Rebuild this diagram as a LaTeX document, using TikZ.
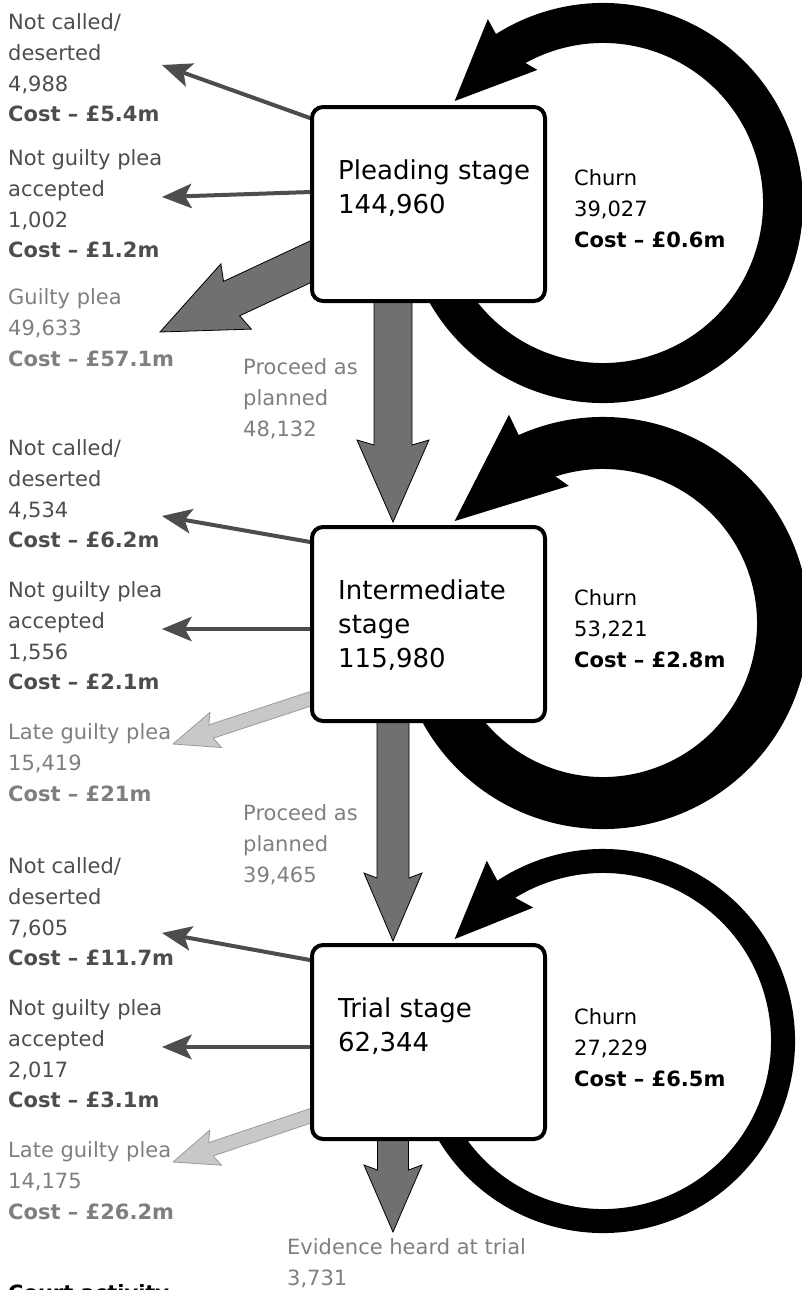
\documentclass[tikz,border=0pt]{standalone}
\usepackage{fontspec}
\setmainfont{DejaVu Sans}
\usetikzlibrary{calc,arrows.meta,bending,backgrounds}
\definecolor{flowgrey}{HTML}{707070}
\definecolor{exitgrey}{HTML}{4D4D4D}
\definecolor{lightflow}{HTML}{C8C8C8}
\definecolor{lightedge}{HTML}{9A9A9A}
\definecolor{fadedtext}{HTML}{7F7F7F}

% block arrow: style, from, to, half shaft, half head, head length
\newcommand{\flowarrow}[6]{%
  \coordinate (fa-b) at ($(#3)!#6!(#2)$);
  \coordinate (fa-j) at ($(#3)!#6-5pt!(#2)$);
  \filldraw[#1] ($(#2)!#4!90:(#3)$) -- ($(fa-j)!#4!90:(#3)$) -- ($(fa-b)!#5!90:(#3)$) -- (#3)
    -- ($(fa-b)!#5!-90:(#3)$) -- ($(fa-j)!#4!-90:(#3)$) -- ($(#2)!#4!-90:(#3)$) -- cycle;
}

\begin{document}
\begin{tikzpicture}[x=1pt, y=1pt,
  stage/.style={draw=black, line width=4pt, fill=white, rounded corners=11pt,
    minimum width=233pt, minimum height=194pt, inner sep=0pt},
  stagetext/.style={anchor=north west, inner sep=0pt, align=left, font=\fontsize{26}{34}\selectfont},
  info/.style={anchor=north west, inner sep=0pt, align=left, font=\fontsize{21}{30.7}\selectfont},
  exit/.style={draw=exitgrey, line width=4pt, -{Stealth[length=30pt, width=25pt, inset=7pt, line width=0pt]}},
  flow/.style={fill=flowgrey, draw=black, line width=0.8pt},
  lateflow/.style={fill=lightflow, draw=lightedge, line width=0.8pt}]

  \useasboundingbox (0,0) rectangle (801,-1290);
  \clip (0,0) rectangle (801,-1290);

  % Stages
  \node[stage] (plead) at (428.5,-204) {};
  \node[stage] (inter) at (428.5,-624) {};
  \node[stage] (trial) at (428.5,-1042) {};
  \node[stagetext] (pleadtxt) at (338,-159.6) {Pleading stage\\144,960};
  \node[stagetext] (intertxt) at (338,-579.6) {Intermediate\\stage\\115,980};
  \node[stagetext] (trialtxt) at (338,-997.6) {Trial stage\\62,344};

  % Churn
  \node[info] (churnA) at (574,-169.6) {Churn\\39,027\\\textbf{Cost – £0.6m}};
  \node[info] (churnB) at (574,-589.6) {Churn\\53,221\\\textbf{Cost – £2.8m}};
  \node[info] (churnC) at (574,-1008.6) {Churn\\27,229\\\textbf{Cost – £6.5m}};

  % Outcomes - pleading stage
  \node[info, text=exitgrey] (ncallA) at (8,-13.6) {Not called/\\deserted\\4,988\\\textbf{Cost – £5.4m}};
  \node[info, text=exitgrey] (ngA) at (8,-149.6) {Not guilty plea\\accepted\\1,002\\\textbf{Cost – £1.2m}};
  \node[info, text=fadedtext] (gpA) at (8,-288.6) {Guilty plea\\49,633\\\textbf{Cost – £57.1m}};
  \node[info, text=fadedtext] (procA) at (243,-358.6) {Proceed as\\planned\\48,132};

  % Outcomes - intermediate stage
  \node[info, text=exitgrey] (ncallB) at (8,-439.6) {Not called/\\deserted\\4,534\\\textbf{Cost – £6.2m}};
  \node[info, text=exitgrey] (ngB) at (8,-581.6) {Not guilty plea\\accepted\\1,556\\\textbf{Cost – £2.1m}};
  \node[info, text=fadedtext] (lgpB) at (8,-723.6) {Late guilty plea\\15,419\\\textbf{Cost – £21m}};
  \node[info, text=fadedtext] (procB) at (243,-804.6) {Proceed as\\planned\\39,465};

  % Outcomes - trial stage
  \node[info, text=exitgrey] (ncallC) at (8,-857.6) {Not called/\\deserted\\7,605\\\textbf{Cost – £11.7m}};
  \node[info, text=exitgrey] (ngC) at (8,-999.6) {Not guilty plea\\accepted\\2,017\\\textbf{Cost – £3.1m}};
  \node[info, text=fadedtext] (lgpC) at (8,-1141.6) {Late guilty plea\\14,175\\\textbf{Cost – £26.2m}};
  \node[info, text=fadedtext] (evid) at (287,-1238.6) {Evidence heard at trial\\3,731};

  \node[anchor=base west, inner sep=0pt, font=\fontsize{21}{30.7}\selectfont\bfseries] (court) at (8,-1300) {Court activity};

  % Arrow ends
  \coordinate (ncallAend) at (162,-65);
  \coordinate (ngAend) at (162,-197);
  \coordinate (gpAend) at (160,-332);
  \coordinate (ncallBend) at (162,-516);
  \coordinate (ngBend) at (162,-629);
  \coordinate (lgpBend) at (173,-744);
  \coordinate (ncallCend) at (162,-933);
  \coordinate (ngCend) at (162,-1047);
  \coordinate (lgpCend) at (173,-1162);
  \coordinate (evidend) at (393,-1232);

  \begin{scope}[on background layer]
    % Churn loops
    \draw[line width=40pt, -{Stealth[length=81pt, width=71pt, inset=10pt, line width=0pt, flex]}]
      ($(plead.center)+(174.5,1)$) ++(200:180pt) arc[start angle=200, end angle=505.5, radius=180pt];
    \draw[line width=52pt, -{Stealth[length=110pt, width=93pt, inset=12pt, line width=0pt, flex]}]
      ($(inter.center)+(174.5,1)$) ++(200:180pt) arc[start angle=200, end angle=505.5, radius=180pt];
    \draw[line width=24pt, -{Stealth[length=78pt, width=66pt, inset=10pt, line width=0pt, flex]}]
      ($(trial.center)+(174.5,1)$) ++(200:180pt) arc[start angle=200, end angle=505.5, radius=180pt];

    % Exits
    \draw[exit] ($(plead.west)+(9.4,82.6)$) -- (ncallAend);
    \draw[exit] ($(plead.west)+(10,12.3)$) -- (ngAend);
    \draw[exit] ($(inter.west)+(9.9,80.3)$) -- (ncallBend);
    \draw[exit] ($(inter.west)+(10,-5)$) -- (ngBend);
    \draw[exit] ($(trial.west)+(9.8,80.2)$) -- (ncallCend);
    \draw[exit] ($(trial.west)+(10,-5)$) -- (ngCend);

    % Pleas
    \coordinate (gpAstart) at ($(plead.west)+(9,-53.8)$);
    \flowarrow{flow}{gpAstart}{gpAend}{19pt}{36pt}{84pt}
    \coordinate (lgpBstart) at ($(inter.west)+(9.5,-71.9)$);
    \flowarrow{lateflow}{lgpBstart}{lgpBend}{7pt}{18.5pt}{45pt}
    \coordinate (lgpCstart) at ($(trial.west)+(9.5,-70.8)$);
    \flowarrow{lateflow}{lgpCstart}{lgpCend}{7pt}{18.5pt}{45pt}

    % Proceed as planned
    \coordinate (procAstart) at ($(plead.south)+(-35.5,8)$);
    \coordinate (procAend) at ($(inter.north)+(-35.5,3)$);
    \flowarrow{flow}{procAstart}{procAend}{19pt}{36pt}{82pt}
    \coordinate (procBstart) at ($(inter.south)+(-35.5,8)$);
    \coordinate (procBend) at ($(trial.north)+(-35.5,2)$);
    \flowarrow{flow}{procBstart}{procBend}{16pt}{29pt}{68pt}
    \coordinate (evidstart) at ($(trial.south)+(-35.5,8)$);
    \flowarrow{flow}{evidstart}{evidend}{15.5pt}{29pt}{67pt}
  \end{scope}

\end{tikzpicture}
\end{document}
